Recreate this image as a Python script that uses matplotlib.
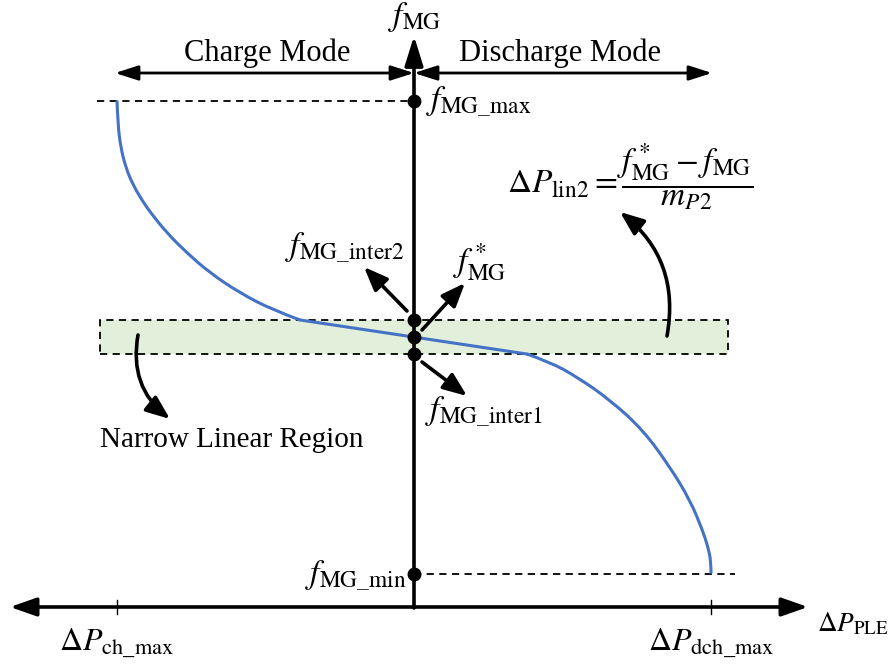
import numpy as np
import matplotlib
matplotlib.use("Agg")
import matplotlib.pyplot as plt
from matplotlib.patches import FancyArrowPatch, Rectangle, PathPatch
from matplotlib.path import Path

plt.rcParams["mathtext.fontset"] = "stix"
plt.rcParams["font.family"] = ["Liberation Serif", "DejaVu Serif"]

# normalised units: dP = +-1 at the power limits, f = +-1 at f_MG_max / f_MG_min
p_limits = [-1.0, 1.0]
p_labels = [r"$\Delta P_{\mathrm{ch\_max}}$", r"$\Delta P_{\mathrm{dch\_max}}$"]
f_max, f_min = 1.0, -1.0
f_inter2, f_star, f_inter1 = 0.072, 0.0, -0.072

# droop curve: charge side, narrow linear region, discharge side
charge_x = [-1.000, -0.997, -0.987, -0.970, -0.946, -0.916, -0.889, -0.832,
            -0.764, -0.687, -0.586, -0.475, -0.384]
charge_y = [1.000, 0.896, 0.799, 0.715, 0.643, 0.579, 0.529, 0.440,
            0.355, 0.271, 0.186, 0.114, 0.072]
linear_x = [-0.384, 0.380]
linear_y = [0.072, -0.072]
discharge_x = [0.380, 0.458, 0.549, 0.660, 0.771, 0.862, 0.929, 0.970, 0.990, 1.000, 1.000]
discharge_y = [-0.072, -0.106, -0.169, -0.266, -0.393, -0.550, -0.689, -0.812, -0.888, -0.950, -1.000]

# pixel layout helpers
X0, SX, Y0, SY = 414.0, 297.0, 337.0, 236.5
W, H = 896, 666


def pos(px, py):
    return ((px - X0) / SX, (Y0 - py) / SY)


def smooth_path(xs, ys):
    # quadratic B-spline through the read points, drawn by the path renderer
    pts = np.column_stack([xs, ys])
    verts = [pts[0]]
    codes = [Path.MOVETO]
    for i in range(1, len(pts) - 2):
        verts += [pts[i], (pts[i] + pts[i + 1]) / 2]
        codes += [Path.CURVE3, Path.CURVE3]
    verts += [pts[-2], pts[-1]]
    codes += [Path.CURVE3, Path.CURVE3]
    return Path(verts, codes)


fig = plt.figure(figsize=(W / 100, H / 100), dpi=100)
ax = fig.add_axes([0, 0, 1, 1])
ax.set_xlim(pos(0, 0)[0], pos(W, 0)[0])
ax.set_ylim(pos(0, H)[1], pos(0, 0)[1])
ax.axis("off")

black = "black"
blue = "#4472C4"
dash = (0, (4, 3))

# narrow linear region band
band_left, band_right = pos(100, 0)[0], pos(728, 0)[0]
ax.add_patch(Rectangle((band_left, f_inter1), band_right - band_left, f_inter2 - f_inter1,
                       facecolor="#E2EFDA", edgecolor=black, lw=1.3, ls=dash, zorder=1))

# dashed guides for f limits
ax.plot([pos(97, 0)[0], 0], [f_max, f_max], color=black, lw=1.3, ls=dash, zorder=2)
ax.plot([0, pos(735, 0)[0]], [f_min, f_min], color=black, lw=1.3, ls=dash, zorder=2)

# axes arrows
axis_style = dict(arrowstyle="<|-|>,head_length=0.8,head_width=0.28", mutation_scale=20,
                  lw=2.6, color=black, shrinkA=0, shrinkB=0)
ax.annotate("", xy=pos(808, 607), xytext=pos(10, 607), arrowprops=axis_style, zorder=3)
ax.annotate("", xy=pos(414, 36), xytext=pos(414, 608),
            arrowprops=dict(axis_style, arrowstyle="-|>,head_length=0.9,head_width=0.28"), zorder=3)
for p in p_limits:
    ax.plot([p, p], [pos(0, 600)[1], pos(0, 614)[1]], color=black, lw=1.0, zorder=3)

# operating-mode arrows
mode_y = pos(0, 73)[1]
for x1, x2 in [(pos(115, 0)[0], 0), (0, pos(712, 0)[0])]:
    ax.annotate("", xy=(x2, mode_y), xytext=(x1, mode_y),
                arrowprops=dict(arrowstyle="<|-|>,head_length=1.0,head_width=0.32", mutation_scale=14,
                                lw=2.0, color=black, shrinkA=0, shrinkB=0))
ax.text(*pos(267, 53), "Charge Mode", fontsize=22, ha="center", va="center")
ax.text(*pos(560, 53), "Discharge Mode", fontsize=22, ha="center", va="center")

# droop curve
for xs, ys in [(charge_x, charge_y), (discharge_x, discharge_y)]:
    ax.add_patch(PathPatch(smooth_path(xs, ys), facecolor="none", edgecolor=blue, lw=2.2, zorder=4))
ax.plot(linear_x, linear_y, color=blue, lw=2.2, zorder=4)

# marked frequencies on the vertical axis
ax.plot([0] * 5, [f_max, f_inter2, f_star, f_inter1, f_min], "o", color=black, ms=9, zorder=5)

fs = 24
ax.text(*pos(415, 17), r"$f_{\mathrm{MG}}$", fontsize=fs, ha="center", va="center")
ax.text(*pos(426, 102), r"$f_{\mathrm{MG\_max}}$", fontsize=fs, ha="left", va="center")
ax.text(*pos(406, 576), r"$f_{\mathrm{MG\_min}}$", fontsize=fs, ha="right", va="center")
ax.text(*pos(345, 248), r"$f_{\mathrm{MG\_inter2}}$", fontsize=fs, ha="center", va="center")
ax.text(*pos(480, 262), r"$f^*_{\mathrm{MG}}$", fontsize=fs, ha="center", va="center")
ax.text(*pos(484, 412), r"$f_{\mathrm{MG\_inter1}}$", fontsize=fs, ha="center", va="center")
for p, lab in zip(p_limits, p_labels):
    ax.text(p, pos(0, 643)[1], lab, fontsize=23, ha="center", va="center")
ax.text(*pos(817, 624), r"$\Delta P_{\mathrm{PLE}}$", fontsize=19.5, ha="left", va="center")
ax.text(*pos(630, 177),
        r"$\Delta P_{\mathrm{lin2}} = \dfrac{f^*_{\mathrm{MG}} - f_{\mathrm{MG}}}{m_{P2}}$",
        fontsize=fs, ha="center", va="center")
ax.text(*pos(232, 440), "Narrow Linear Region", fontsize=21, ha="center", va="center")

# pointer arrows
small = dict(arrowstyle="-|>,head_length=0.9,head_width=0.36", mutation_scale=16,
             lw=2.6, color=black, shrinkA=0, shrinkB=0)
for tail, tip in [((407, 311), (364, 267)), ((422, 330), (465, 283)), ((422, 362), (467, 396))]:
    ax.annotate("", xy=pos(*tip), xytext=pos(*tail), arrowprops=small)

for tail, tip in [((138, 335), (170, 419)), ((667, 336), (620, 212))]:
    ax.add_patch(FancyArrowPatch(pos(*tail), pos(*tip), connectionstyle="arc3,rad=0.3",
                                 arrowstyle="-|>,head_length=0.9,head_width=0.36", mutation_scale=16,
                                 lw=2.6, color=black, shrinkA=0, shrinkB=0, zorder=6))

fig.savefig("out.png", dpi=100)
